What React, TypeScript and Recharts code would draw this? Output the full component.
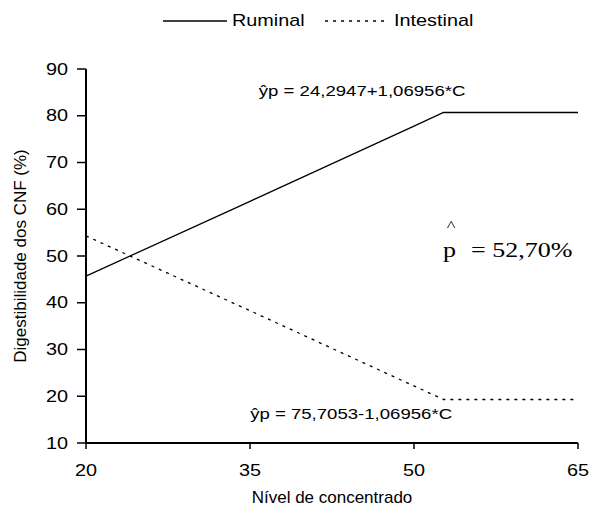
import React from "react";
import {
  LineChart,
  Line,
  XAxis,
  YAxis,
  Legend,
  ReferenceDot,
} from "recharts";

// concentrate level (%) and CNF digestibility
const niveis = [20, 35, 50, 52.7, 65];
const ruminal = [45.7, 61.7, 77.8, 80.7, 80.7];
const intestinal = [54.3, 38.3, 22.2, 19.3, 19.3];

const series = ["Ruminal", "Intestinal"];
const xTicks = [20, 35, 50, 65];
const yTicks = [10, 20, 30, 40, 50, 60, 70, 80, 90];

const eqRuminal = "ŷp = 24,2947+1,06956*C";
const eqIntestinal = "ŷp = 75,7053-1,06956*C";
const pontoQuebra = "52,70%";

const data = niveis.map((n, i) => ({
  nivel: n,
  Ruminal: ruminal[i],
  Intestinal: intestinal[i],
}));

const SANS = "'Liberation Sans', Arial, sans-serif";
const SERIF = "'Liberation Serif', 'Times New Roman', serif";
const SX = 1.24; // the original figure is stretched sideways

const XTick = (props: any) => {
  const { x, y, payload } = props;
  return (
    <g transform={`translate(${x},${y}) scale(${SX},1)`}>
      <text textAnchor="middle" dy="0.71em" fontSize={16} fontFamily={SANS} fill="#000">
        {payload.value}
      </text>
    </g>
  );
};

const YTick = (props: any) => {
  const { x, y, payload } = props;
  return (
    <g transform={`translate(${x},${y}) scale(${SX},1)`}>
      <text textAnchor="end" dy="0.355em" fontSize={16} fontFamily={SANS} fill="#000">
        {payload.value}
      </text>
    </g>
  );
};

const eqLabel = (texto: string) => (props: any) => {
  const { viewBox } = props;
  return (
    <g transform={`translate(${viewBox.x},${viewBox.y}) scale(${SX},1)`}>
      <text textAnchor="middle" fontSize={15} fontFamily={SANS} fill="#000">
        {texto}
      </text>
    </g>
  );
};

const pLabel = (props: any) => {
  const { viewBox } = props;
  return (
    <g transform={`translate(${viewBox.x},${viewBox.y}) scale(${SX},1)`}>
      <text x={3} y={-26} fontSize={15} fontFamily={SERIF} fill="#000">
        ^
      </text>
      <text fontSize={21} fontFamily={SERIF} fill="#000">
        p<tspan dx={12}>= {pontoQuebra}</tspan>
      </text>
    </g>
  );
};

const renderLegend = (props: any) => {
  const payload = [...props.payload].sort(
    (a: any, b: any) => series.indexOf(a.value) - series.indexOf(b.value)
  );
  return (
    <div style={{ height: 61, position: "relative" }}>
      <svg width={589} height={61} style={{ position: "absolute", left: -8, top: -8 }}>
        {payload.map((entry: any, i: number) => {
          const start = 171 + i * 162;
          return (
            <g key={entry.value}>
              <line
                x1={start}
                x2={start + 64}
                y1={21}
                y2={21}
                stroke="#000"
                strokeWidth={1.3}
                strokeDasharray={entry.payload.strokeDasharray}
              />
              <g transform={`translate(${start + 69},26) scale(${SX},1)`}>
                <text fontSize={16} fontFamily={SANS} fill="#000">
                  {entry.value}
                </text>
              </g>
            </g>
          );
        })}
      </svg>
    </div>
  );
};

export default function App() {
  return (
    <div style={{ position: "absolute", left: 0, top: 0, background: "#fff" }}>
      <LineChart
        width={589}
        height={512}
        data={data}
        margin={{ top: 8, right: 11, bottom: 0, left: 0 }}
      >
        <Legend verticalAlign="top" align="center" content={renderLegend} />
        <XAxis
          dataKey="nivel"
          type="number"
          domain={[20, 65]}
          ticks={xTicks}
          height={69}
          tickSize={6}
          tickMargin={16}
          tick={<XTick />}
          axisLine={{ stroke: "#000", strokeWidth: 2 }}
          tickLine={{ stroke: "#000", strokeWidth: 1.5 }}
          label={{
            value: "Nível de concentrado",
            position: "center",
            dy: 19,
            fontSize: 17,
            fontFamily: SANS,
            fill: "#000",
          }}
        />
        <YAxis
          type="number"
          domain={[10, 90]}
          ticks={yTicks}
          width={86}
          tickSize={9}
          tickMargin={9}
          tick={<YTick />}
          axisLine={{ stroke: "#000", strokeWidth: 2 }}
          tickLine={{ stroke: "#000", strokeWidth: 1.5 }}
          label={{
            value: "Digestibilidade dos CNF (%)",
            angle: -90,
            position: "center",
            dx: -23,
            fontSize: 17,
            fontFamily: SANS,
            fill: "#000",
          }}
        />
        <Line
          type="linear"
          dataKey="Ruminal"
          stroke="#000"
          strokeWidth={1.3}
          dot={false}
          isAnimationActive={false}
        />
        <Line
          type="linear"
          dataKey="Intestinal"
          stroke="#000"
          strokeWidth={1.3}
          strokeDasharray="3 5"
          dot={false}
          isAnimationActive={false}
        />
        <ReferenceDot x={45.25} y={84.2} r={0} stroke="none" fill="none" ifOverflow="visible" label={eqLabel(eqRuminal)} />
        <ReferenceDot x={44.25} y={15.1} r={0} stroke="none" fill="none" ifOverflow="visible" label={eqLabel(eqIntestinal)} />
        <ReferenceDot x={52.66} y={49.75} r={0} stroke="none" fill="none" ifOverflow="visible" label={pLabel} />
      </LineChart>
    </div>
  );
}
